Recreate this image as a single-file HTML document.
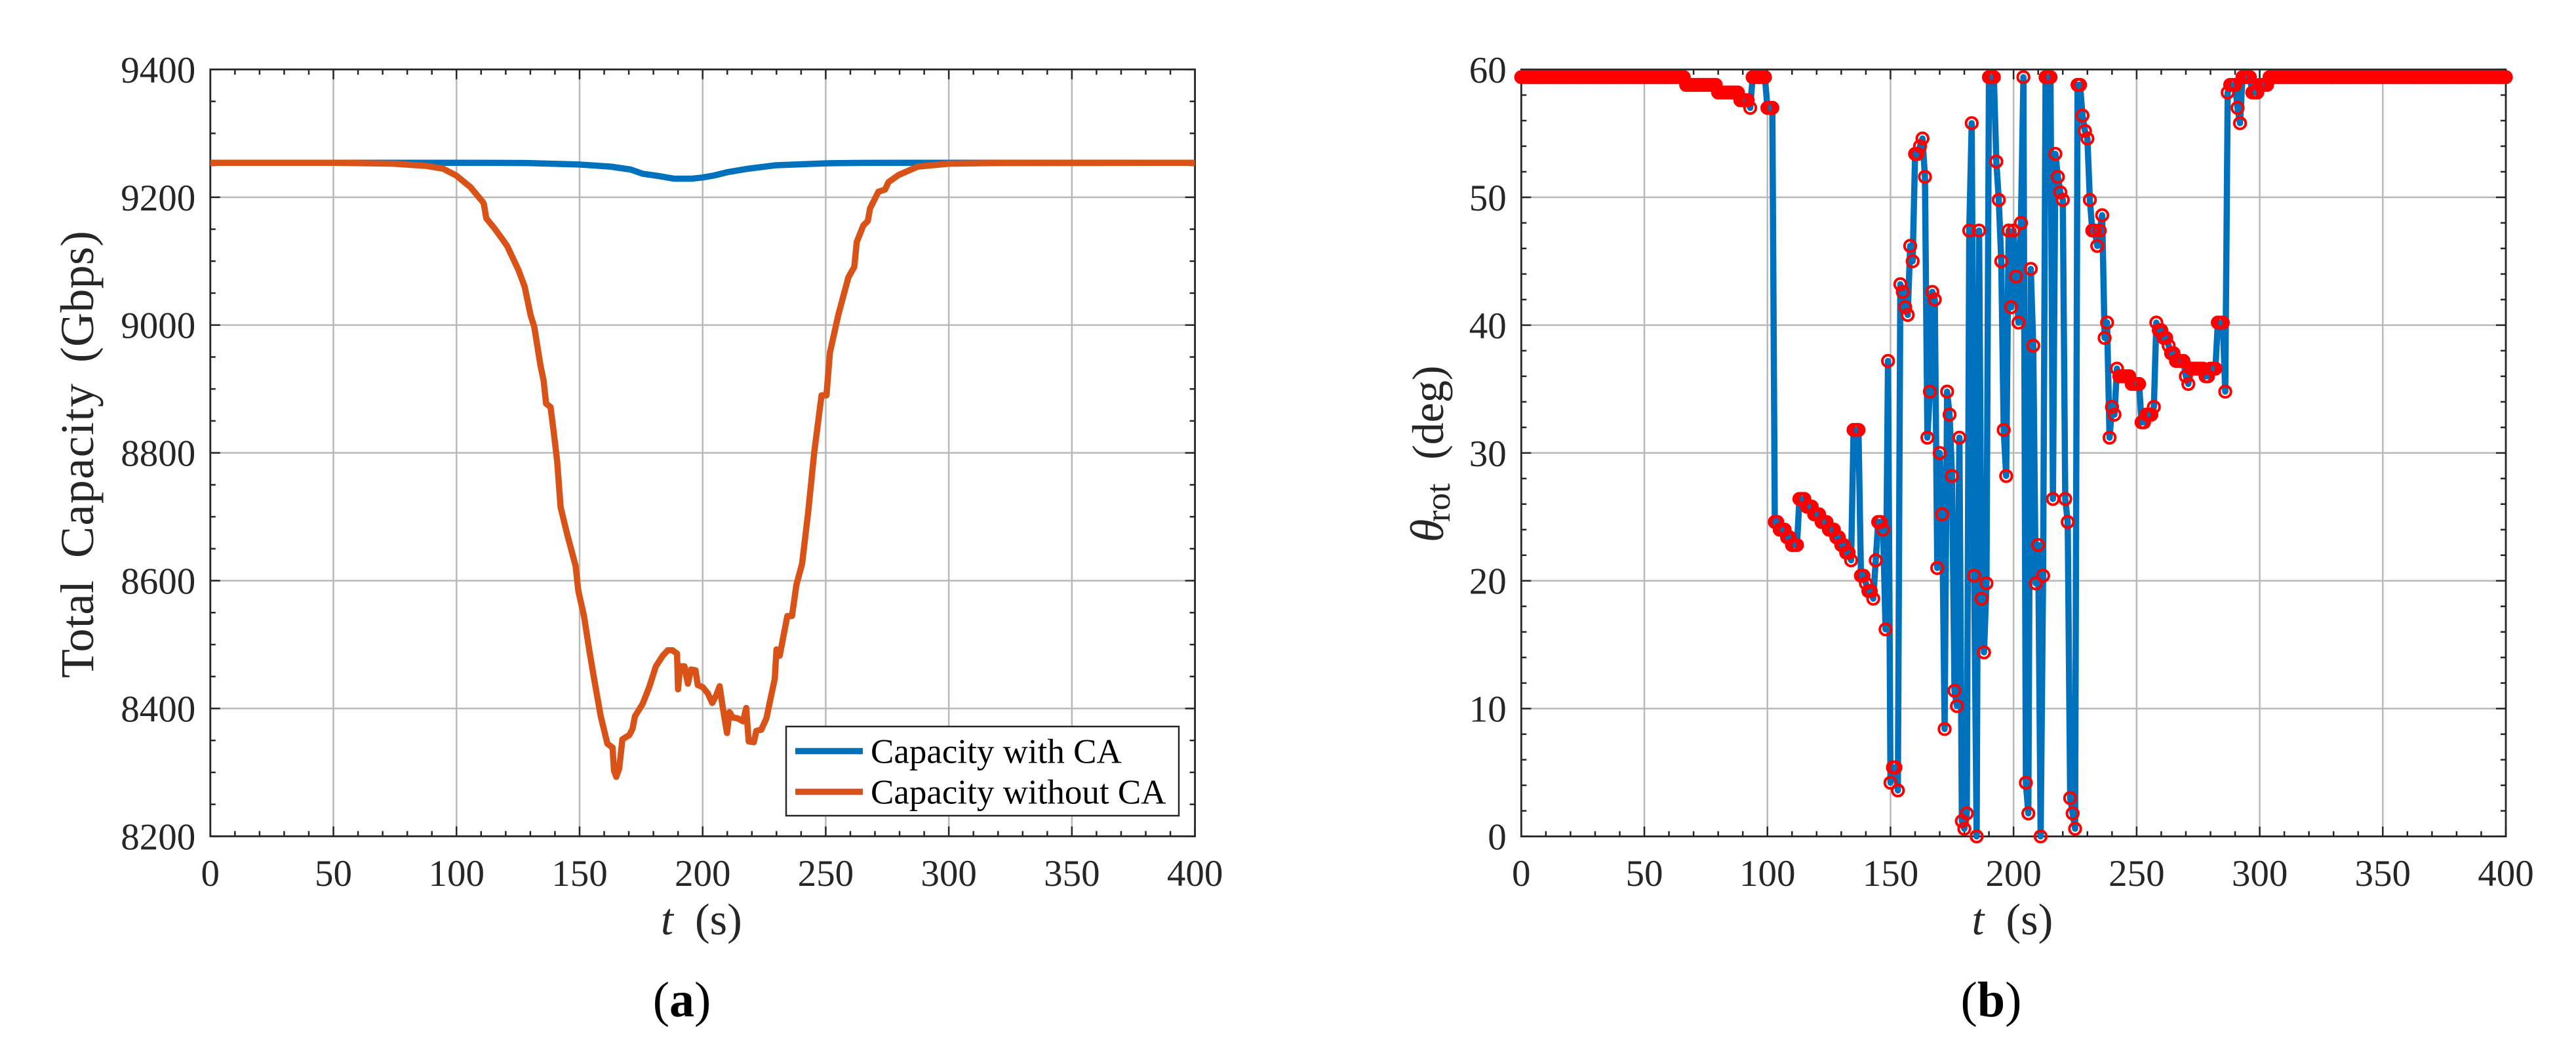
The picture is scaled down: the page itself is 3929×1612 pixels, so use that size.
<!DOCTYPE html>
<html lang="en">
<head>
<meta charset="utf-8">
<title>Total capacity and rotation angle versus time</title>
<style>
html,body{margin:0;padding:0;background:#fff;width:3929px;height:1612px;overflow:hidden}
svg{display:block}
text{font-family:"Liberation Serif",serif}
.tick{font-size:57px;fill:#262626}
.title{fill:#262626}
</style>
</head>
<body>
<svg id="fig" xmlns="http://www.w3.org/2000/svg" width="3929" height="1612" viewBox="0 0 3929 1612">
  <rect x="0" y="0" width="3929" height="1612" fill="#ffffff"/>
  <g id="panelA"></g>
  <g id="panelB"></g>

  <g>
    <rect x="1199" y="1108" width="599" height="136" fill="#ffffff" stroke="#262626" stroke-width="2.5"/>
    <line x1="1213" x2="1316" y1="1145.5" y2="1145.5" stroke="#0072BD" stroke-width="9.5"/>
    <text x="1328" y="1163.5" font-size="53" fill="#000">Capacity with CA</text>
    <line x1="1213" x2="1316" y1="1207.5" y2="1207.5" stroke="#D95319" stroke-width="9.5"/>
    <text x="1328" y="1225.5" font-size="53" fill="#000">Capacity without CA</text>
  </g>

  <g transform="translate(142,1034) rotate(-90)">
    <text class="title" x="0" y="0" font-size="72" textLength="149" lengthAdjust="spacing">Total</text>
    <text class="title" x="183" y="0" font-size="72" textLength="266" lengthAdjust="spacing">Capacity</text>
    <text class="title" x="481" y="0" font-size="72" textLength="201" lengthAdjust="spacing">(Gbps)</text>
  </g>
  <text class="title" y="1425" font-size="68"><tspan x="1008" font-style="italic">t</tspan><tspan x="1060">(s)</tspan></text>

  <g transform="translate(2201,827) rotate(-90)">
    <text class="title" x="0" y="0" font-size="72" font-style="italic">θ</text>
    <text class="title" x="31" y="10" font-size="53">rot</text>
    <text class="title" x="126" y="0" font-size="68">(deg)</text>
  </g>
  <text class="title" y="1425" font-size="68"><tspan x="3007.5" font-style="italic">t</tspan><tspan x="3059.5">(s)</tspan></text>

  <text x="1040" y="1550" font-size="76" text-anchor="middle" fill="#000">(<tspan font-weight="bold">a</tspan>)</text>
  <text x="3037" y="1550" font-size="76" text-anchor="middle" fill="#000">(<tspan font-weight="bold">b</tspan>)</text>
</svg>
<script>
const xTickLabels = [0, 50, 100, 150, 200, 250, 300, 350, 400];
const capacityTickLabels = [8200, 8400, 8600, 8800, 9000, 9200, 9400];
const thetaTickLabels = [0, 10, 20, 30, 40, 50, 60];

const blueTimes = [0, 50, 74.4, 99.9, 128.7, 149.9, 162.7, 170.8, 175.6, 181.7, 188.5, 195.3, 200, 204.8, 210.3, 218.4, 229.3, 249.9, 264.6, 300, 400];
const blueCapacity = [9254, 9254, 9254, 9254, 9253.6, 9251.2, 9247.9, 9243.3, 9236.8, 9233.5, 9229, 9229, 9230.9, 9234.2, 9239.4, 9244.6, 9249.9, 9253.1, 9253.8, 9254, 9254];

const orangeTimes = [0, 50, 74.4, 87.8, 94.6, 99.9, 105.6, 110.4, 111.1, 112.1, 115.1, 118.4, 120.6, 125.2, 127.7, 130.1, 131.6, 134.1, 135.4, 136.4, 138.2, 139.6, 140.9, 142.3, 145, 148.4, 149.5, 151.8, 153.9, 155.9, 158.6, 161.3, 163.4, 164, 164.9, 166.1, 167.4, 170.2, 171.5, 172.5, 175.6, 178.3, 181, 183.8, 185.8, 187.8, 189.6, 190, 190.9, 192.6, 194, 195.3, 197.1, 198, 200, 202.1, 203.9, 205.5, 206.9, 208.2, 209.9, 210.9, 212.3, 214.3, 216.4, 217.7, 218.7, 220.8, 221.8, 223.8, 225.9, 227.5, 229.3, 230, 231.3, 234.4, 236.3, 238.1, 240.4, 242.9, 245.3, 248.3, 250.3, 251.7, 255.1, 259.2, 261.6, 262.6, 265.3, 267.1, 268, 271.4, 274.1, 275.5, 279.6, 287.4, 300, 320, 400];
const orangeCapacity = [9254, 9254, 9252.5, 9249, 9244.6, 9234, 9216, 9194, 9190, 9167, 9153, 9135.7, 9123.6, 9086, 9060, 9015.7, 8997, 8937.2, 8913, 8877, 8871.8, 8829.6, 8786.8, 8714.8, 8672, 8623, 8584, 8544.7, 8492.4, 8446.6, 8387.8, 8345, 8338.7, 8302.7, 8293, 8306, 8351.8, 8358.3, 8368, 8387.8, 8407, 8433.5, 8466, 8482.6, 8491, 8491, 8485.9, 8430, 8466, 8466, 8438.8, 8461, 8459.7, 8436.8, 8433.5, 8423.7, 8408.7, 8420.5, 8434.8, 8400.8, 8361.6, 8394.3, 8385.8, 8384.5, 8379.9, 8400.8, 8348.5, 8347.2, 8364.9, 8366.8, 8384.5, 8413.9, 8446.6, 8492.4, 8482.6, 8544.7, 8544.7, 8593.8, 8626.5, 8708.3, 8799.8, 8890, 8890, 8956.8, 9015.7, 9074.6, 9090.9, 9130, 9156, 9162.9, 9182.5, 9208.7, 9212, 9223.7, 9234.8, 9247.9, 9252.5, 9253.5, 9254];

/* rotation angle, one reading per second from t = 0 to t = 400 */
const thetaValues = [
59.4,59.4,59.4,59.4,59.4,59.4,59.4,59.4,59.4,59.4,
59.4,59.4,59.4,59.4,59.4,59.4,59.4,59.4,59.4,59.4,
59.4,59.4,59.4,59.4,59.4,59.4,59.4,59.4,59.4,59.4,
59.4,59.4,59.4,59.4,59.4,59.4,59.4,59.4,59.4,59.4,
59.4,59.4,59.4,59.4,59.4,59.4,59.4,59.4,59.4,59.4,
59.4,59.4,59.4,59.4,59.4,59.4,59.4,59.4,59.4,59.4,
59.4,59.4,59.4,59.4,59.4,59.4,59.4,58.8,58.8,58.8,
58.8,58.8,58.8,58.8,58.8,58.8,58.8,58.8,58.8,58.8,
58.2,58.2,58.2,58.2,58.2,58.2,58.2,58.2,58.2,57.6,
57.6,57.6,57.6,57,59.4,59.4,59.4,59.4,59.4,59.4,
57,57,57,24.6,24.6,24,24,24,23.4,23.4,
22.8,22.8,22.8,26.4,26.4,26.4,25.8,25.8,25.8,25.2,
25.2,25.2,24.6,24.6,24.6,24,24,24,23.4,23.4,
22.8,22.8,22.2,22.2,21.6,31.8,31.8,31.8,20.4,20.4,
19.8,19.2,19.2,18.6,21.6,24.6,24.6,24,16.2,37.2,
4.2,5.4,5.4,3.6,43.2,42.6,41.4,40.8,46.2,45,
53.4,53.4,54,54.6,51.6,31.2,34.8,42.6,42,21,
30,25.2,8.4,34.8,33,28.2,11.4,10.2,31.2,1.2,
0.6,1.8,47.4,55.8,20.4,0,47.4,18.6,14.4,19.8,
59.4,59.4,59.4,52.8,49.8,45,31.8,28.2,47.4,41.4,
47.4,43.8,40.2,48,59.4,4.2,1.8,44.4,38.4,19.8,
22.8,0,20.4,59.4,59.4,59.4,26.4,53.4,51.6,50.4,
49.8,26.4,24.6,3,1.8,0.6,58.8,58.8,56.4,55.2,
54.6,49.8,47.4,47.4,46.2,47.4,48.6,39,40.2,31.2,
33.6,33,36.6,36,36,36,36,36,35.4,35.4,
35.4,35.4,32.4,32.4,33,33,33,33.6,40.2,39.6,
39.6,39,39,38.4,37.8,37.8,37.2,37.2,37.2,37.2,
36,35.4,36.6,36.6,36.6,36.6,36.6,36.6,36,36,
36.6,36.6,36.6,40.2,40.2,40.2,34.8,58.2,58.8,58.8,
58.8,57,55.8,59.4,59.4,59.4,59.4,58.2,58.2,58.2,
58.8,58.8,58.8,58.8,59.4,59.4,59.4,59.4,59.4,59.4,
59.4,59.4,59.4,59.4,59.4,59.4,59.4,59.4,59.4,59.4,
59.4,59.4,59.4,59.4,59.4,59.4,59.4,59.4,59.4,59.4,
59.4,59.4,59.4,59.4,59.4,59.4,59.4,59.4,59.4,59.4,
59.4,59.4,59.4,59.4,59.4,59.4,59.4,59.4,59.4,59.4,
59.4,59.4,59.4,59.4,59.4,59.4,59.4,59.4,59.4,59.4,
59.4,59.4,59.4,59.4,59.4,59.4,59.4,59.4,59.4,59.4,
59.4,59.4,59.4,59.4,59.4,59.4,59.4,59.4,59.4,59.4,
59.4,59.4,59.4,59.4,59.4,59.4,59.4,59.4,59.4,59.4,
59.4,59.4,59.4,59.4,59.4,59.4,59.4,59.4,59.4,59.4,
59.4];

const NS = 'http://www.w3.org/2000/svg';
const AXIS = '#262626', GRID = '#b9b9b9';

function make(parent, tag, props) {
  const el = document.createElementNS(NS, tag);
  for (const k in props) el.setAttribute(k, props[k]);
  parent.appendChild(el);
  return el;
}

function linearScale(d0, d1, r0, r1) {
  return function (v) { return r0 + (v - d0) * (r1 - r0) / (d1 - d0); };
}

function drawFrame(root, box, xScale, yScale, xLabels, yLabels, xMinorStep, yMinorStep, prefix) {
  /* grid */
  xLabels.forEach(function (v) {
    if (v === xLabels[0] || v === xLabels[xLabels.length - 1]) return;
    const g = make(root, 'line', {x1: xScale(v), x2: xScale(v), y1: box.top, y2: box.bottom, stroke: GRID, 'stroke-width': 2.5});
    
    
  });
  yLabels.forEach(function (v) {
    if (v === yLabels[0] || v === yLabels[yLabels.length - 1]) return;
    const g = make(root, 'line', {x1: box.left, x2: box.right, y1: yScale(v), y2: yScale(v), stroke: GRID, 'stroke-width': 2.5});
    
    
  });
  /* ticks */
  const xLo = xLabels[0], xHi = xLabels[xLabels.length - 1];
  for (let v = xLo; v <= xHi; v += xMinorStep) {
    const major = xLabels.indexOf(v) >= 0;
    const len = major ? 15 : 8;
    const px = xScale(v);
    const t1 = make(root, 'line', {x1: px, x2: px, y1: box.bottom, y2: box.bottom - len, stroke: AXIS, 'stroke-width': 2.5});
    
    
    const t2 = make(root, 'line', {x1: px, x2: px, y1: box.top, y2: box.top + len, stroke: AXIS, 'stroke-width': 2.5});
    
    
  }
  const yLo = yLabels[0], yHi = yLabels[yLabels.length - 1];
  for (let v = yLo; v <= yHi; v += yMinorStep) {
    const major = yLabels.indexOf(v) >= 0;
    const len = major ? 15 : 8;
    const py = yScale(v);
    const t1 = make(root, 'line', {x1: box.left, x2: box.left + len, y1: py, y2: py, stroke: AXIS, 'stroke-width': 2.5});
    
    
    const t2 = make(root, 'line', {x1: box.right, x2: box.right - len, y1: py, y2: py, stroke: AXIS, 'stroke-width': 2.5});
    
    
  }
  /* tick labels */
  xLabels.forEach(function (v) {
    const t = make(root, 'text', {x: xScale(v), y: 1351, 'text-anchor': 'middle', 'class': 'tick'});
    
    
    t.textContent = v;
  });
  yLabels.forEach(function (v) {
    const t = make(root, 'text', {x: box.left - 22.5, y: yScale(v) + 20, 'text-anchor': 'end', 'class': 'tick'});
    
    
    t.textContent = v;
  });
  /* box */
  const b = make(root, 'rect', {x: box.left, y: box.top, width: box.right - box.left, height: box.bottom - box.top, fill: 'none', stroke: AXIS, 'stroke-width': 2.8});
  
  
}

function pathFrom(xs, ys, xScale, yScale) {
  return xs.map(function (x, i) {
    return (i ? 'L' : 'M') + xScale(x).toFixed(2) + ' ' + yScale(ys[i]).toFixed(2);
  }).join('');
}

/* panel (a) */
const boxA = {left: 320.8, right: 1822.6, top: 105.9, bottom: 1275.4};
const xA = linearScale(0, 400, boxA.left, boxA.right);
const yA = linearScale(8200, 9400, boxA.bottom, boxA.top);
const panelA = document.getElementById('panelA');
const gridLayerA = make(panelA, 'g', {});


drawFrame(gridLayerA, boxA, xA, yA, xTickLabels, capacityTickLabels, 10, 50, 'capacity');

const blueLine = make(panelA, 'path', {d: pathFrom(blueTimes, blueCapacity, xA, yA), fill: 'none', stroke: '#0072BD', 'stroke-width': 9.5, 'stroke-linejoin': 'round'});


const orangeLine = make(panelA, 'path', {d: pathFrom(orangeTimes, orangeCapacity, xA, yA), fill: 'none', stroke: '#D95319', 'stroke-width': 9.5, 'stroke-linejoin': 'round'});



/* panel (b) */
const boxB = {left: 2320.3, right: 3822, top: 106, bottom: 1275.6};
const xB = linearScale(0, 400, boxB.left, boxB.right);
const yB = linearScale(0, 60, boxB.bottom, boxB.top);
const panelB = document.getElementById('panelB');
const gridLayerB = make(panelB, 'g', {});


drawFrame(gridLayerB, boxB, xB, yB, xTickLabels, thetaTickLabels, 10, 2, 'rotation');

const thetaTimes = thetaValues.map(function (_, i) { return i; });
const thetaLine = make(panelB, 'path', {d: pathFrom(thetaTimes, thetaValues, xB, yB), fill: 'none', stroke: '#0072BD', 'stroke-width': 9.5, 'stroke-linejoin': 'round'});



const markerLayer = make(panelB, 'g', {fill: 'none', stroke: '#ff0000', 'stroke-width': 4});


thetaValues.forEach(function (v, i) {
  const c = make(markerLayer, 'circle', {cx: xB(i).toFixed(2), cy: yB(v).toFixed(2), r: 8.7});
  
  
});
</script>
</body>
</html>
